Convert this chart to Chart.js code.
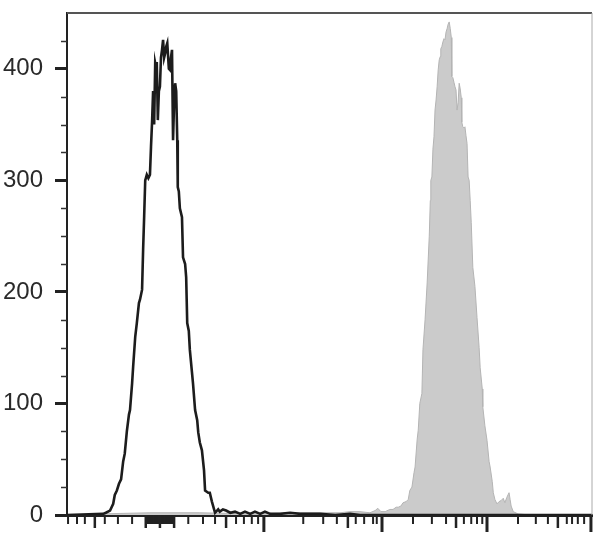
<!DOCTYPE html>
<html>
<head>
<meta charset="utf-8">
<script src="https://cdn.jsdelivr.net/npm/chart.js@4/dist/chart.umd.min.js"></script>
<style>
  html, body { margin: 0; padding: 0; background: #fff; }
  #wrap { width: 608px; height: 545px; }
</style>
</head>
<body>
<div id="wrap"><canvas id="hist"></canvas></div>
<script>
// channel positions (0..1000 display units) and counts
var blackX = [0, 69, 74, 82, 88, 91, 95, 99, 103, 107,
  110, 114, 118, 120, 124, 126, 130, 133, 137, 139,
  143, 145, 147, 149, 152, 155, 158, 160, 162, 164,
  166, 168, 170, 171, 173, 175, 177, 179, 181, 183,
  185, 187, 189, 191, 192, 194, 196, 198, 200, 202,
  204, 206, 208, 210, 211, 213, 215, 219, 221, 225,
  227, 229, 232, 234, 238, 240, 244, 248, 250, 253,
  257, 261, 263, 269, 272, 276, 282, 288, 291, 297,
  303, 311, 320, 330, 339, 349, 358, 368, 377, 387,
  406, 425, 444, 463, 482, 511, 539, 558, 1000];
var blackY = [0, 1, 2, 4, 10, 18, 22, 28, 32, 48,
  55, 75, 90, 94, 118, 133, 160, 172, 190, 193,
  202, 238, 268, 300, 305, 302, 305, 330, 352, 380,
  350, 405, 400, 406, 354, 380, 384, 410, 417, 426,
  410, 414, 420, 423, 423, 400, 399, 410, 417, 336,
  370, 387, 380, 336, 294, 290, 275, 267, 231, 225,
  213, 172, 165, 148, 128, 118, 94, 85, 74, 65,
  58, 40, 22, 20, 20, 12, 2, 5, 3, 5,
  4, 2, 3, 1, 3, 1, 3, 1, 3, 1,
  1, 2, 1, 1, 1, 0, 1, 0, 0];

var grayX = [0, 55, 63, 158, 253, 349, 444, 501, 520, 539,
  558, 577, 587, 592, 598, 606, 615, 621, 627, 631,
  636, 640, 646, 650, 653, 657, 661, 663, 667, 669,
  672, 676, 678, 682, 686, 690, 692, 693, 695, 697,
  699, 701, 703, 705, 707, 709, 711, 712, 714, 716,
  718, 720, 722, 724, 726, 728, 730, 732, 733, 735,
  737, 739, 741, 743, 745, 747, 749, 751, 752, 754,
  756, 758, 760, 762, 764, 766, 768, 770, 773, 777,
  781, 785, 787, 791, 792, 796, 800, 804, 806, 810,
  812, 815, 819, 823, 827, 831, 834, 838, 842, 844,
  846, 850, 859, 882, 1000];
var grayY = [0, 0, 1, 2, 2, 1, 2, 2, 2, 3,
  3, 2, 4, 6, 3, 3, 5, 5, 7, 7,
  8, 11, 12, 14, 22, 25, 38, 43, 68, 76,
  100, 109, 148, 175, 208, 250, 282, 300, 303, 328,
  339, 363, 372, 384, 399, 408, 411, 418, 420, 424,
  427, 426, 433, 436, 440, 442, 436, 428, 393, 392,
  388, 384, 381, 363, 370, 387, 382, 374, 352, 348,
  347, 348, 340, 333, 303, 300, 282, 262, 222, 205,
  177, 150, 132, 113, 97, 80, 67, 48, 43, 30,
  20, 14, 10, 12, 13, 15, 11, 16, 20, 14,
  8, 3, 1, 0, 0];

// y axis
var yLabelTicks = [0, 100, 200, 300, 400];
var yMinorTicks = [25, 50, 75, 125, 150, 175, 225, 250, 275, 325, 350, 375, 425];

// x axis (biexponential display, no labels)
var xDecadeTicks = [375, 600, 800, 998];
var xHalfTicks = [53, 150, 177, 204, 303, 535, 741, 935];
var xMinorTicks = [2, 19, 34, 72, 97, 124,
  153, 155, 157, 159, 161, 163, 165, 167, 169, 171, 173, 175,
  179, 181, 183, 185, 187, 189, 191, 193, 195, 197, 199, 201,
  231, 259, 282, 322, 337, 352, 364,
  450, 488, 514, 550, 566, 583, 590,
  659, 695, 722, 756, 770, 781, 791,
  859, 893, 916, 952, 962, 973, 985];

function pts(xs, ys) {
  return xs.map(function (v, i) { return { x: v, y: ys[i] }; });
}

// extra tick marks and frame
var frame = {
  id: 'frame',
  afterDraw: function (chart) {
    var ctx = chart.ctx, a = chart.chartArea;
    var sx = chart.scales.x, sy = chart.scales.y;
    ctx.save();
    // top and right edge
    ctx.strokeStyle = '#555';
    ctx.lineWidth = 2;
    ctx.beginPath();
    ctx.moveTo(a.left, a.top);
    ctx.lineTo(a.right, a.top);
    ctx.stroke();
    ctx.strokeStyle = '#aaa';
    ctx.lineWidth = 1;
    ctx.beginPath();
    ctx.moveTo(a.right, a.top);
    ctx.lineTo(a.right, a.bottom);
    ctx.stroke();
    // y minor ticks
    ctx.strokeStyle = '#333';
    ctx.lineWidth = 1.5;
    yMinorTicks.forEach(function (v) {
      var p = Math.round(sy.getPixelForValue(v)) + 0.5;
      ctx.beginPath();
      ctx.moveTo(a.left - 6, p);
      ctx.lineTo(a.left, p);
      ctx.stroke();
    });
    // x ticks, three lengths
    function xt(list, len, w) {
      ctx.lineWidth = w;
      list.forEach(function (v) {
        var p = sx.getPixelForValue(v);
        ctx.beginPath();
        ctx.moveTo(p, a.bottom);
        ctx.lineTo(p, a.bottom + len);
        ctx.stroke();
      });
    }
    ctx.strokeStyle = '#222';
    xt(xMinorTicks, 9, 2);
    xt(xHalfTicks, 13, 2.5);
    xt(xDecadeTicks, 17, 3);
    ctx.restore();
  }
};

new Chart(document.getElementById('hist'), {
  type: 'line',
  data: {
    datasets: [{
      data: pts(blackX, blackY),
      borderColor: '#1c1c1c',
      borderWidth: 2.6,
      fill: false,
      pointRadius: 0,
      tension: 0,
      order: 0
    }, {
      data: pts(grayX, grayY),
      borderColor: '#b4b4b4',
      backgroundColor: '#cbcbcb',
      borderWidth: 1,
      fill: 'origin',
      pointRadius: 0,
      tension: 0,
      order: 1
    }]
  },
  options: {
    responsive: true,
    maintainAspectRatio: false,
    animation: false,
    layout: { padding: { left: 0, right: 16, top: 13, bottom: 30 } },
    plugins: { legend: { display: false }, tooltip: { enabled: false } },
    scales: {
      x: {
        type: 'linear',
        min: 0,
        max: 1000,
        ticks: { display: false },
        grid: { display: false, drawTicks: false },
        border: { display: true, color: '#222', width: 3 }
      },
      y: {
        min: 0,
        max: 450,
        afterBuildTicks: function (axis) {
          axis.ticks = yLabelTicks.map(function (v) { return { value: v }; });
        },
        afterFit: function (axis) {
          axis.width = 67;
          axis.paddingTop = 0;
          axis.paddingBottom = 0;
        },
        ticks: {
          color: '#2a2a2a',
          padding: 12,
          font: { family: 'Liberation Sans, Arial, sans-serif', size: 24 }
        },
        grid: {
          display: true,
          drawOnChartArea: false,
          drawTicks: true,
          tickLength: 12,
          tickWidth: 3,
          tickColor: '#222'
        },
        border: { display: true, color: '#222', width: 2 }
      }
    }
  },
  plugins: [frame]
});
</script>
</body>
</html>
